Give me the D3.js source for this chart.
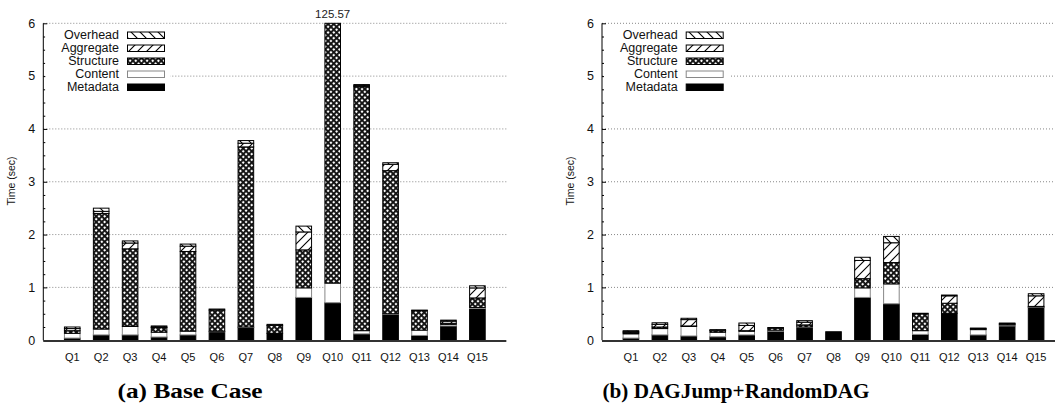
<!DOCTYPE html>
<html>
<head>
<meta charset="utf-8">
<script src="https://cdn.jsdelivr.net/npm/d3@7/dist/d3.min.js"></script>
<style>
  html, body { margin: 0; padding: 0; background: #fff; }
  svg { display: block; }
</style>
</head>
<body>
<svg id="chart" width="1055" height="411"></svg>
<script>
// Query labels along the x axis
const queries = ["Q1","Q2","Q3","Q4","Q5","Q6","Q7","Q8","Q9","Q10","Q11","Q12","Q13","Q14","Q15"];
const yTicks = [0, 1, 2, 3, 4, 5, 6];
const components = ["Metadata", "Content", "Structure", "Aggregate", "Overhead"];

// (a) Base Case — time per component (sec)
const baseMetadata  = [0.04, 0.10, 0.10, 0.06, 0.10, 0.16, 0.24, 0.13, 0.81, 0.71, 0.12, 0.49, 0.09, 0.27, 0.60];
const baseContent   = [0.09, 0.11, 0.16, 0.09, 0.07, 0.01, 0.01, 0.00, 0.18, 0.37, 0.06, 0.01, 0.10, 0.03, 0.02];
const baseStructure = [0.05, 2.19, 1.47, 0.09, 1.51, 0.40, 3.41, 0.15, 0.72, 124.29, 4.62, 2.71, 0.37, 0.02, 0.18];
const baseAggregate = [0.04, 0.04, 0.11, 0.01, 0.10, 0.00, 0.07, 0.00, 0.34, 0.10, 0.02, 0.12, 0.00, 0.04, 0.19];
const baseOverhead  = [0.03, 0.06, 0.04, 0.02, 0.04, 0.02, 0.05, 0.02, 0.11, 0.10, 0.02, 0.03, 0.01, 0.02, 0.04];

// (b) DAGJump+RandomDAG — time per component (sec)
const dagMetadata  = [0.04, 0.10, 0.08, 0.065, 0.10, 0.17, 0.24, 0.16, 0.81, 0.69, 0.11, 0.51, 0.10, 0.27, 0.62];
const dagContent   = [0.08, 0.12, 0.18, 0.085, 0.07, 0.02, 0.01, 0.00, 0.18, 0.375, 0.07, 0.00, 0.10, 0.02, 0.01];
const dagStructure = [0.02, 0.03, 0.01, 0.03, 0.01, 0.04, 0.04, 0.00, 0.175, 0.405, 0.32, 0.19, 0.01, 0.01, 0.01];
const dagAggregate = [0.02, 0.05, 0.12, 0.01, 0.10, 0.00, 0.05, 0.00, 0.345, 0.375, 0.00, 0.14, 0.01, 0.015, 0.20];
const dagOverhead  = [0.02, 0.03, 0.025, 0.01, 0.045, 0.01, 0.03, 0.00, 0.06, 0.12, 0.01, 0.015, 0.01, 0.01, 0.04];

const svg = d3.select("#chart");
const defs = svg.append("defs");

// Fill patterns for the stacked components
const cs = 4;
const cross = defs.append("pattern").attr("id", "pat-structure")
  .attr("patternUnits", "userSpaceOnUse").attr("width", cs).attr("height", cs)
  .attr("patternTransform", "rotate(45)");
cross.append("rect").attr("width", cs).attr("height", cs).attr("fill", "#fff");
cross.append("rect").attr("width", cs).attr("height", 1.9).attr("fill", "#111");
cross.append("rect").attr("width", 1.9).attr("height", cs).attr("fill", "#111");

function hatch(id, dir) {
  const s = 9;
  const p = defs.append("pattern").attr("id", id)
    .attr("patternUnits", "userSpaceOnUse").attr("width", s).attr("height", s);
  p.append("rect").attr("width", s).attr("height", s).attr("fill", "#fff");
  const d = dir > 0
    ? `M0,${s} L${s},0 M${-s/2},${s/2} L${s/2},${-s/2} M${s/2},${s*1.5} L${s*1.5},${s/2}`
    : `M0,0 L${s},${s} M${-s/2},${s/2} L${s/2},${s*1.5} M${s/2},${-s/2} L${s*1.5},${s/2}`;
  p.append("path").attr("d", d).attr("stroke", "#000").attr("stroke-width", 1.1).attr("fill", "none");
}
hatch("pat-aggregate", 1);
hatch("pat-overhead", -1);

const styles = {
  Metadata:  { fill: "#000", stroke: "#000" },
  Content:   { fill: "#fff", stroke: "#888" },
  Structure: { fill: "url(#pat-structure)", stroke: "#000" },
  Aggregate: { fill: "url(#pat-aggregate)", stroke: "#000" },
  Overhead:  { fill: "url(#pat-overhead)", stroke: "#000" }
};

const font = "'Liberation Sans', Arial, sans-serif";

function drawPanel(ox, series, caption, captionX, captionW) {
  const left = ox + 43.3, right = left + 16 * 28.94;
  const x = d3.scaleLinear().domain([0, 16]).range([left, right]);
  const y = d3.scaleLinear().domain([0, 6]).range([340.2, 23.3]).clamp(true);
  const barW = 15.6;
  const g = svg.append("g");

  // grid lines
  g.append("g").selectAll("line").data(yTicks.filter(t => t > 0)).join("line")
    .attr("x1", left).attr("x2", right)
    .attr("y1", d => y(d)).attr("y2", d => y(d))
    .attr("stroke", "#888").attr("stroke-width", 1).attr("stroke-dasharray", "1,2");

  // y axis: major ticks with labels, minor ticks every 0.25
  const yAxis = d3.axisRight(y).tickValues(yTicks).tickSize(4).tickFormat("");
  const ya = g.append("g").attr("transform", `translate(${left},0)`).call(yAxis);
  ya.select(".domain").remove();
  ya.selectAll("line").attr("stroke", "#000");
  const minor = d3.range(0, 6.01, 0.25).filter(v => Math.abs(v - Math.round(v)) > 1e-6);
  const ym = g.append("g").attr("transform", `translate(${left},0)`)
    .call(d3.axisRight(y).tickValues(minor).tickSize(2).tickFormat(""));
  ym.select(".domain").remove();
  ym.selectAll("line").attr("stroke", "#000");
  g.append("line").attr("x1", left).attr("x2", left).attr("y1", y(6)).attr("y2", y(0))
    .attr("stroke", "#000").attr("stroke-width", 1);
  g.append("g").selectAll("text").data(yTicks).join("text")
    .attr("x", left - 8).attr("y", d => y(d)).attr("dy", "0.35em")
    .attr("text-anchor", "end").attr("font-family", font).attr("font-size", 12.5)
    .attr("fill", "#111").text(d => d);

  g.append("text")
    .attr("transform", `translate(${ox + 15},${181}) rotate(-90)`)
    .attr("text-anchor", "middle").attr("font-family", font).attr("font-size", 10.5)
    .attr("fill", "#111").text("Time (sec)");

  // legend (opaque, hides the grid behind it)
  const lg = g.append("g");
  lg.append("rect").attr("x", left + 2).attr("y", y(6) + 6).attr("width", 125).attr("height", 66)
    .attr("fill", "#fff");
  const order = components.slice().reverse();
  order.forEach((c, i) => {
    const cy = 35 + i * 13;
    lg.append("text").attr("x", ox + 119).attr("y", cy).attr("dy", "0.35em")
      .attr("text-anchor", "end").attr("font-family", font).attr("font-size", 12.5)
      .attr("fill", "#111").text(c);
    lg.append("rect").attr("x", ox + 127.5).attr("y", cy - 3).attr("width", 37).attr("height", 6.5)
      .attr("fill", styles[c].fill).attr("stroke", styles[c].stroke).attr("stroke-width", 1);
  });

  // stacked bars
  const rows = queries.map((q, i) => {
    const r = { q, i: i + 1 };
    components.forEach((c, k) => r[c] = series[k][i]);
    return r;
  });
  const stack = d3.stack().keys(components)(rows);
  stack.forEach(layer => {
    const c = layer.key;
    g.append("g").selectAll("rect").data(layer.filter(d => d[1] - d[0] > 0)).join("rect")
      .attr("x", d => x(d.data.i) - barW / 2)
      .attr("width", barW)
      .attr("y", d => y(d[1]))
      .attr("height", d => Math.max(0, y(d[0]) - y(d[1])))
      .attr("fill", styles[c].fill)
      .attr("stroke", styles[c].stroke).attr("stroke-width", 1);
  });

  // value label for bars beyond the axis range
  rows.forEach(r => {
    const total = d3.sum(components, c => r[c]);
    if (total > 6) {
      g.append("text").attr("x", x(r.i)).attr("y", 18)
        .attr("text-anchor", "middle").attr("font-family", font).attr("font-size", 11.5)
        .attr("fill", "#222").text(total.toFixed(2));
    }
  });

  // x axis
  g.append("line").attr("x1", left).attr("x2", right).attr("y1", y(0) + 0.8).attr("y2", y(0) + 0.8)
    .attr("stroke", "#333").attr("stroke-width", 2);
  g.append("g").selectAll("text").data(rows).join("text")
    .attr("x", d => x(d.i)).attr("y", 357).attr("dy", "0.35em")
    .attr("text-anchor", "middle").attr("font-family", font).attr("font-size", 11)
    .attr("fill", "#111").text(d => d.q);

  // caption
  g.append("text").attr("x", captionX).attr("y", 398)
    .attr("text-anchor", "middle").attr("font-family", "'Liberation Serif', 'DejaVu Serif', serif")
    .attr("font-weight", "bold").attr("font-size", 22)
    .attr("textLength", captionW).attr("lengthAdjust", "spacingAndGlyphs")
    .attr("fill", "#000").text(caption);
}

drawPanel(0, [baseMetadata, baseContent, baseStructure, baseAggregate, baseOverhead], "(a) Base Case", 190, 145);
drawPanel(558.7, [dagMetadata, dagContent, dagStructure, dagAggregate, dagOverhead], "(b) DAGJump+RandomDAG", 736, 267);
</script>
</body>
</html>
